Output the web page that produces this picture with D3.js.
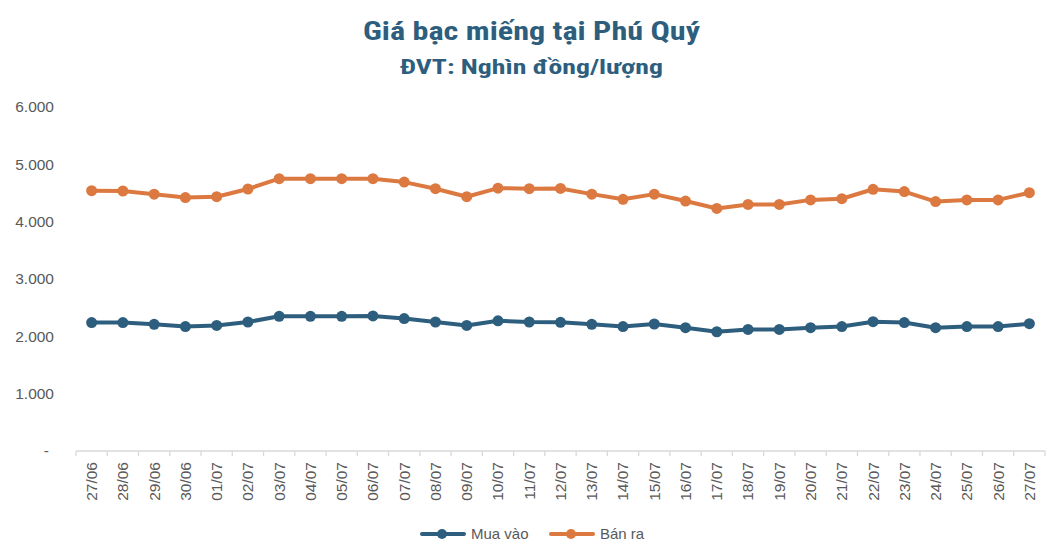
<!DOCTYPE html>
<html>
<head>
<meta charset="utf-8">
<script src="https://cdn.jsdelivr.net/npm/d3@7"></script>
<style>
  body { margin: 0; background: #fff; }
  svg { display: block; }
</style>
</head>
<body>
<div id="chart"></div>
<script>
var dates = ["27/06","28/06","29/06","30/06","01/07","02/07","03/07","04/07","05/07","06/07",
    "07/07","08/07","09/07","10/07","11/07","12/07","13/07","14/07","15/07","16/07",
    "17/07","18/07","19/07","20/07","21/07","22/07","23/07","24/07","25/07","26/07","27/07"];

// Mua vào
var muaVao = [2240,2240,2210,2170,2190,2250,2350,2350,2350,2355,
    2310,2250,2190,2270,2250,2245,2210,2170,2215,2150,
    2080,2120,2120,2150,2170,2255,2240,2150,2170,2170,2220];

// Bán ra
var banRa = [4540,4535,4480,4420,4435,4570,4750,4750,4750,4750,
    4690,4575,4435,4585,4575,4580,4480,4390,4480,4360,
    4230,4300,4300,4380,4400,4565,4525,4350,4380,4380,4505];

var yTicks = [0,1000,2000,3000,4000,5000,6000];

var seriesNames = ["Mua vào", "Bán ra"];
var colors = ["#2e5e7e", "#dc7941"];

var width = 1062, height = 556;

var svg = d3.select("#chart")
    .append("svg")
    .attr("width", width)
    .attr("height", height);

var x = d3.scaleBand()
    .domain(dates)
    .range([76, 1045]);

var y = d3.scaleLinear()
    .domain([0, 6000])
    .range([451, 107]);

var fmt = function(v) {
    if (v === 0) return "-";
    return d3.format(",")(v).replace(/,/g, ".");
};

// title
svg.append("text")
    .attr("x", 531.5)
    .attr("y", 40)
    .attr("text-anchor", "middle")
    .attr("font-family", "'Liberation Sans Narrow', 'Roboto Condensed', 'Liberation Sans', Arial, sans-serif")
    .attr("font-weight", "bold")
    .attr("font-size", "26px")
    .attr("fill", "#2e5e7e")
    .attr("textLength", 337)
    .attr("lengthAdjust", "spacingAndGlyphs")
    .text("Giá bạc miếng tại Phú Quý");

svg.append("text")
    .attr("x", 531.5)
    .attr("y", 74)
    .attr("text-anchor", "middle")
    .attr("font-family", "'Liberation Sans Narrow', 'Roboto Condensed', 'Liberation Sans', Arial, sans-serif")
    .attr("font-weight", "bold")
    .attr("font-size", "21px")
    .attr("fill", "#2e5e7e")
    .attr("textLength", 263)
    .attr("lengthAdjust", "spacingAndGlyphs")
    .text("ĐVT: Nghìn đồng/lượng");

// y labels
svg.append("g")
    .selectAll("text")
    .data(yTicks)
    .enter()
    .append("text")
    .attr("x", function(d) { return d === 0 ? 49 : 54; })
    .attr("y", function(d) { return y(d); })
    .attr("dy", "0.35em")
    .attr("text-anchor", "end")
    .attr("font-family", "'Liberation Sans', Arial, sans-serif")
    .attr("font-size", "15.5px")
    .attr("fill", "#595959")
    .text(fmt);

// x axis baseline and ticks between categories
var axisG = svg.append("g");
axisG.append("line")
    .attr("x1", x.range()[0])
    .attr("x2", x.range()[1])
    .attr("y1", y(0))
    .attr("y2", y(0))
    .attr("stroke", "#d9d9d9")
    .attr("stroke-width", 1.3);

var tickPos = dates.map(function(d) { return x(d); }).concat([x.range()[1]]);
axisG.selectAll("line.tick")
    .data(tickPos)
    .enter()
    .append("line")
    .attr("class", "tick")
    .attr("x1", function(d) { return d; })
    .attr("x2", function(d) { return d; })
    .attr("y1", y(0))
    .attr("y2", y(0) + 5)
    .attr("stroke", "#d9d9d9")
    .attr("stroke-width", 1.3);

axisG.selectAll("text")
    .data(dates)
    .enter()
    .append("text")
    .attr("transform", function(d) {
        return "translate(" + (x(d) + x.bandwidth() / 2) + "," + 462 + ") rotate(-90)";
    })
    .attr("dy", "0.35em")
    .attr("text-anchor", "end")
    .attr("font-family", "'Liberation Sans', Arial, sans-serif")
    .attr("font-size", "15.5px")
    .attr("fill", "#595959")
    .text(function(d) { return d; });

// lines
var line = d3.line()
    .x(function(d, i) { return x(dates[i]) + x.bandwidth() / 2; })
    .y(function(d) { return y(d); });

[muaVao, banRa].forEach(function(vals, k) {
    var g = svg.append("g");
    g.append("path")
        .datum(vals)
        .attr("d", line)
        .attr("fill", "none")
        .attr("stroke", colors[k])
        .attr("stroke-width", 4)
        .attr("stroke-linejoin", "round");

    g.selectAll("circle")
        .data(vals)
        .enter()
        .append("circle")
        .attr("cx", function(d, i) { return x(dates[i]) + x.bandwidth() / 2; })
        .attr("cy", function(d) { return y(d); })
        .attr("r", 5.5)
        .attr("fill", colors[k]);
});

// legend
var legendX = [422, 551];
seriesNames.forEach(function(name, k) {
    var lg = svg.append("g").attr("transform", "translate(" + legendX[k] + ",534)");
    lg.append("line")
        .attr("x1", 0)
        .attr("x2", 42)
        .attr("y1", 0)
        .attr("y2", 0)
        .attr("stroke", colors[k])
        .attr("stroke-width", 4)
        .attr("stroke-linecap", "round");
    lg.append("circle")
        .attr("cx", 20)
        .attr("cy", 0)
        .attr("r", 5)
        .attr("fill", colors[k]);
    lg.append("text")
        .attr("x", 49)
        .attr("y", 0)
        .attr("dy", "0.35em")
        .attr("font-family", "'Liberation Sans', Arial, sans-serif")
        .attr("font-size", "15px")
        .attr("fill", "#595959")
        .text(name);
});
</script>
</body>
</html>
